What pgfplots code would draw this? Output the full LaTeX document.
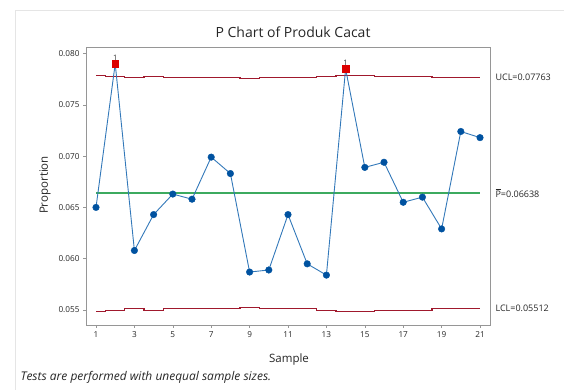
\documentclass[border=0pt]{standalone}
\usepackage{pgfplots}
\pgfplotsset{compat=1.18}
\usepackage{fontspec}
\setmainfont{Open Sans}
\definecolor{ptblue}{RGB}{0,82,160}
\definecolor{lnblue}{RGB}{50,120,185}
\definecolor{limred}{RGB}{160,25,45}
\definecolor{centergreen}{RGB}{60,170,95}
\definecolor{outred}{RGB}{220,0,0}
\definecolor{framegray}{RGB}{150,150,150}
\begin{document}
\begin{tikzpicture}
\path[use as bounding box] (-86pt,-65pt) rectangle (478pt,325pt);
\draw[black!10, line width=0.8pt] (-71pt,-65pt) -- (-71pt,315pt) -- (478pt,315pt);
\begin{axis}[
  at={(0pt,0pt)}, anchor=south west,
  scale only axis, width=404pt, height=278pt,
  xmin=0.479, xmax=21.52, ymin=0.053538, ymax=0.080634,
  xtick={1,3,...,21},
  ytick={0.055,0.060,0.065,0.070,0.075,0.080},
  yticklabels={0.055,0.060,0.065,0.070,0.075,0.080},
  scaled y ticks=false,
  xtick pos=bottom, ytick pos=left,
  tick align=outside, major tick length=3pt,
  tick style={framegray, line width=0.6pt},
  axis line style={framegray, line width=0.8pt},
  ticklabel style={font=\fontsize{8.2}{9}\selectfont, text=black!85},
  /pgf/number format/assume math mode=true,
  clip=false,
]
\addplot[limred, line width=1.2pt, const plot mark mid] coordinates {
(1,0.07788) (2,0.07778) (3,0.07763) (4,0.07778) (5,0.07763) (6,0.07763) (7,0.07763)
(8,0.07763) (9,0.07753) (10,0.07763) (11,0.07763) (12,0.07763) (13,0.07778) (14,0.07788)
(15,0.07788) (16,0.07778) (17,0.07778) (18,0.07778) (19,0.07763) (20,0.07763) (21,0.07763)};
\addplot[limred, line width=1.2pt, const plot mark mid] coordinates {
(1,0.05488) (2,0.05498) (3,0.05513) (4,0.05498) (5,0.05513) (6,0.05513) (7,0.05513)
(8,0.05513) (9,0.05523) (10,0.05513) (11,0.05513) (12,0.05513) (13,0.05498) (14,0.05488)
(15,0.05488) (16,0.05498) (17,0.05498) (18,0.05498) (19,0.05513) (20,0.05513) (21,0.05513)};
\addplot[centergreen, line width=1.7pt, mark=none] coordinates {(1,0.06638) (21,0.06638)};
\addplot[lnblue, line width=0.9pt] coordinates {
(1,0.0650) (2,0.0790) (3,0.0608) (4,0.0643) (5,0.0663) (6,0.0658) (7,0.0699)
(8,0.0683) (9,0.0587) (10,0.0589) (11,0.0643) (12,0.0595) (13,0.0584) (14,0.0785)
(15,0.0689) (16,0.0694) (17,0.0655) (18,0.0660) (19,0.0629) (20,0.0724) (21,0.0718)};
\addplot[only marks, mark=*, mark size=3.3pt, mark options={fill=ptblue, draw=ptblue}] coordinates {
(1,0.0650) (3,0.0608) (4,0.0643) (5,0.0663) (6,0.0658) (7,0.0699)
(8,0.0683) (9,0.0587) (10,0.0589) (11,0.0643) (12,0.0595) (13,0.0584)
(15,0.0689) (16,0.0694) (17,0.0655) (18,0.0660) (19,0.0629) (20,0.0724) (21,0.0718)};
\addplot[only marks, mark=square*, mark size=3.3pt, mark options={fill=outred, draw=outred},
  nodes near coords={1}, nodes near coords style={font=\fontsize{7.5}{8}\selectfont, text=black!80, anchor=south, yshift=0pt}] coordinates {
(2,0.0790) (14,0.0785)};
\end{axis}
\node[font=\fontsize{14}{16}\selectfont, text=black!85] at (207pt,292.5pt) {P Chart of Produk Cacat};
\node[font=\fontsize{11.5}{13}\selectfont, text=black!85] at (203pt,-35pt) {Sample};
\node[font=\fontsize{11.5}{13}\selectfont, text=black!85, rotate=90] at (-41pt,140pt) {Proportion};
\node[font=\fontsize{12}{13}\selectfont\itshape, text=black!85, anchor=west] at (-69pt,-52.5pt) {Tests are performed with unequal sample sizes.};
\node[font=\fontsize{9}{10}\selectfont, text=black!85, anchor=west] at (406pt,247.5pt) {UCL=0.07763};
\node[font=\fontsize{9}{10}\selectfont, text=black!85, anchor=west] at (406pt,132pt) {$\overline{\mbox{P}}$=0.06638};
\node[font=\fontsize{9}{10}\selectfont, text=black!85, anchor=west] at (406pt,17pt) {LCL=0.05512};
\end{tikzpicture}
\end{document}
